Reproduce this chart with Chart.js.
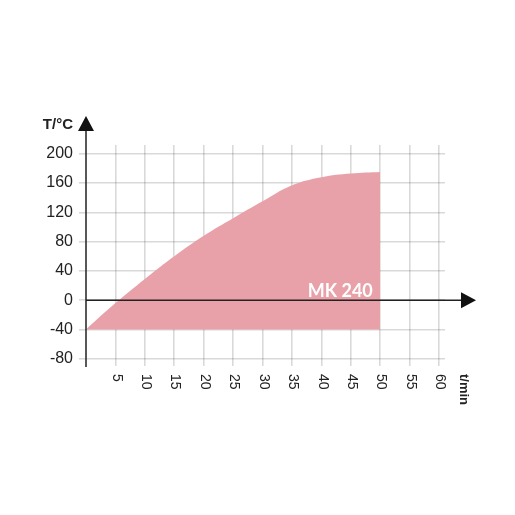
<!DOCTYPE html>
<html>
<head>
<meta charset="utf-8">
<script src="https://cdn.jsdelivr.net/npm/chart.js@4.4.1/dist/chart.umd.min.js"></script>
<style>
html,body{margin:0;padding:0;background:#fff;}
#wrap{width:515px;height:515px;}
</style>
</head>
<body>
<div id="wrap"><canvas id="c" width="515" height="515"></canvas></div>
<script>
const timeMin = [0, 5, 10, 15, 20, 25, 30, 35, 40, 45, 50];
const upperTemp = [-40, -4, 29, 60, 88, 112, 135, 157, 168, 173, 175];
const lowerTemp = [-40, -40, -40, -40, -40, -40, -40, -40, -40, -40, -40];
const xTicks = [5, 10, 15, 20, 25, 30, 35, 40, 45, 50, 55, 60];
const yTicks = [-80, -40, 0, 40, 80, 120, 160, 200];
const seriesLabel = 'MK 240';
const xTitle = 't/min';
const yTitle = 'T/°C';

const fillColor = 'rgb(232,161,169)';

const overlay = {
  id: 'overlay',
  afterDraw(chart) {
    const ctx = chart.ctx;
    const xs = chart.scales.x, ys = chart.scales.y;
    const x0 = xs.getPixelForValue(0);
    const y0 = ys.getPixelForValue(0);
    ctx.save();
    ctx.fillStyle = '#222';
    ctx.font = '14px "Liberation Sans", Arial, sans-serif';
    ctx.textAlign = 'left';
    ctx.textBaseline = 'middle';
    xTicks.forEach(v => {
      const px = xs.getPixelForValue(v);
      ctx.save();
      ctx.translate(px + 1, 374);
      ctx.rotate(Math.PI / 2);
      ctx.fillText(String(v), 0, 0);
      ctx.restore();
    });
    ctx.font = 'bold 13px "Liberation Sans", Arial, sans-serif';
    ctx.save();
    ctx.translate(464, 374);
    ctx.rotate(Math.PI / 2);
    ctx.fillText(xTitle, 0, 0);
    ctx.restore();
    ctx.font = 'bold 15px "Liberation Sans", Arial, sans-serif';
    ctx.textAlign = 'right';
    ctx.fillText(yTitle, 73, 125);
    ctx.strokeStyle = '#222';
    ctx.lineWidth = 1.5;
    ctx.beginPath();
    ctx.moveTo(x0, chart.chartArea.bottom + 1);
    ctx.lineTo(x0, 128);
    ctx.moveTo(x0, y0);
    ctx.lineTo(465, y0);
    ctx.stroke();
    ctx.fillStyle = '#111';
    ctx.beginPath();
    ctx.moveTo(x0, 116);
    ctx.lineTo(x0 - 8, 131);
    ctx.lineTo(x0 + 8, 131);
    ctx.closePath();
    ctx.fill();
    ctx.beginPath();
    ctx.moveTo(476, y0);
    ctx.lineTo(461, y0 - 8);
    ctx.lineTo(461, y0 + 8);
    ctx.closePath();
    ctx.fill();
    ctx.fillStyle = '#fff';
    ctx.font = 'bold 18px Lato, "Open Sans", sans-serif';
    ctx.textAlign = 'center';
    ctx.textBaseline = 'alphabetic';
    ctx.fillText(seriesLabel, xs.getPixelForValue(43.2), y0 - 3);
    ctx.restore();
  }
};

new Chart(document.getElementById('c'), {
  type: 'line',
  data: {
    datasets: [
      {
        label: 'lower',
        data: timeMin.map((t, i) => ({x: t, y: lowerTemp[i]})),
        borderWidth: 0,
        pointRadius: 0,
        fill: false
      },
      {
        label: seriesLabel,
        data: timeMin.map((t, i) => ({x: t, y: upperTemp[i]})),
        borderWidth: 0,
        pointRadius: 0,
        tension: 0.4,
        backgroundColor: fillColor,
        fill: 0
      }
    ]
  },
  plugins: [overlay],
  options: {
    responsive: false,
    animation: false,
    events: [],
    layout: {padding: {top: 145, right: 70, left: 0, bottom: 0}},
    plugins: {legend: {display: false}, tooltip: {enabled: false}},
    scales: {
      x: {
        type: 'linear',
        min: 0,
        max: 61,
        z: 1,
        border: {display: false},
        grid: {color: 'rgba(0,0,0,0.15)', lineWidth: 1.6, drawTicks: false},
        ticks: {display: false},
        afterBuildTicks(s) { s.ticks = xTicks.map(v => ({value: v})); },
        afterFit(s) { s.height = 149; }
      },
      y: {
        type: 'linear',
        min: -90,
        max: 212,
        z: 1,
        border: {display: false},
        grid: {color: 'rgba(0,0,0,0.15)', lineWidth: 1.6, tickLength: 7},
        ticks: {
          color: '#222',
          padding: 6,
          font: {family: '"Liberation Sans", Arial, sans-serif', size: 16}
        },
        afterBuildTicks(s) { s.ticks = yTicks.map(v => ({value: v})); },
        afterFit(s) { s.width = 86; }
      }
    }
  }
});
</script>
</body>
</html>
